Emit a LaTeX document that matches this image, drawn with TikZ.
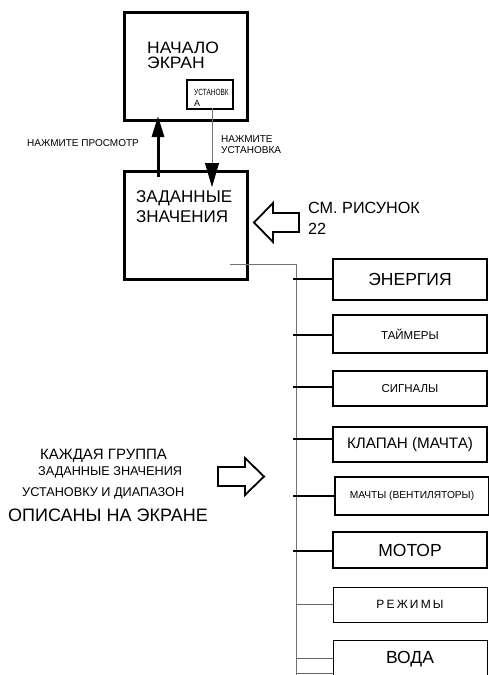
\documentclass[tikz,border=0pt]{standalone}
\usepackage{fontspec}
\setmainfont{Liberation Sans}
\usepackage{graphicx}
\usetikzlibrary{arrows.meta}
\newcommand{\fs}[1]{\fontsize{#1}{#1}\selectfont}
\tikzset{
  bigbox/.style={draw, line width=2.5pt, inner sep=0pt, minimum width=123pt, minimum height=108pt},
  rbox/.style={draw, inner sep=0pt, minimum width=154pt},
  thinb/.style={line width=0.9pt},
  lbl/.style={anchor=base west, inner sep=0pt},
  bus/.style={line width=0.8pt, draw=black!55},
  conthick/.style={line width=2pt},
  conthin/.style={line width=0.8pt, draw=black!60},
  hollow/.style={draw, line width=1.8pt, fill=white, line join=miter}
}
\begin{document}
\begin{tikzpicture}[x=1pt,y=-1pt]
\useasboundingbox (0,0) rectangle (489,675);
\clip (0,0) rectangle (489,675);

% top screen
\node[bigbox, anchor=north west] (start) at (123,11) {};
\node[lbl, font=\fs{16.5}] (t1) at (147,53) {\scalebox{1.06}[1]{НАЧАЛО}};
\node[lbl, font=\fs{16.5}] (t2) at (147,68) {\scalebox{1.06}[1]{ЭКРАН}};
\node[draw, line width=2pt, inner sep=0pt, minimum width=46pt, minimum height=29pt, anchor=north west] (setbtn) at (186,79) {};
\node[lbl, font=\fs{9}] (sb1) at (194,95) {\scalebox{0.72}[1]{УСТАНОВК}};
\node[lbl, font=\fs{9}] (sb2) at (194,106) {А};

% setpoints box
\node[bigbox, anchor=north west] (setp) at (123,170) {};
\node[lbl, font=\fs{17}] (s1) at (136,202) {ЗАДАННЫЕ};
\node[lbl, font=\fs{17}] (s2) at (136,222) {ЗНАЧЕНИЯ};

% arrows between
\coordinate (upfrom) at (158,177);
\coordinate (upto) at (158,116);
\draw[line width=3pt, -{Triangle[length=21pt,width=12pt]}] (upfrom) -- (upto);
\coordinate (dnfrom) at (212,108);
\coordinate (dnto) at (212,187);
\draw[line width=0.8pt, draw=black!55, -{Triangle[length=24pt,width=14pt,color=black]}] (dnfrom) -- (dnto);
\node[lbl, font=\fs{10}] (pv) at (27,146) {НАЖМИТЕ ПРОСМОТР};
\node[lbl, font=\fs{10}] (ps1) at (221,142) {НАЖМИТЕ};
\node[lbl, font=\fs{10}] (ps2) at (221,153) {УСТАНОВКА};

% see figure 22
\draw[hollow] (254,222.5) -- (273,203) -- (273,213) -- (299,213) -- (299,232) -- (273,232) -- (273,242) -- cycle;
\node[lbl, font=\fs{16.2}] (see1) at (308,213) {СМ. РИСУНОК};
\node[lbl, font=\fs{16.2}] (see2) at (308,234) {22};

% bus
\coordinate (busstart) at (230,264);
\coordinate (buscorner) at (296,264);
\coordinate (busend) at (296,676);
\draw[bus] (busstart) -- (buscorner) -- (busend);

% right boxes
\node[rbox, line width=2.7pt, minimum height=41pt, font=\fs{17.5}] (b1) at (410,279.5) {ЭНЕРГИЯ};
\node[rbox, line width=2pt, minimum height=38pt, font=\fs{11.5}] (b2) at (410,334) {ТАЙМЕРЫ};
\node[rbox, line width=2pt, minimum height=35pt, font=\fs{11.5}] (b3) at (410,388.5) {СИГНАЛЫ};
\node[rbox, line width=2pt, minimum height=35pt, font=\fs{15.2}] (b4) at (410,444.5) {КЛАПАН (МАЧТА)};
\node[rbox, line width=2pt, minimum height=38pt, font=\fs{10.2}] (b5) at (412,496) {МАЧТЫ (ВЕНТИЛЯТОРЫ)};
\node[rbox, line width=2.5pt, minimum height=36pt, font=\fs{17.5}] (b6) at (410,550) {МОТОР};
\node[rbox, thinb, minimum height=35pt, font=\fs{12}] (b7) at (410,604.5) {\addfontfeature{LetterSpace=18}РЕЖИМЫ};
\node[rbox, thinb, minimum height=38pt, font=\fs{17.5}] (b8) at (410,659) {ВОДА};

% connectors
\coordinate (c1) at (293,279);
\coordinate (c2) at (293,335);
\coordinate (c3) at (293,387);
\coordinate (c4) at (293,439);
\coordinate (c5) at (293,496);
\coordinate (c6) at (293,551);
\coordinate (c7) at (296,604);
\coordinate (c8) at (296,658);
\coordinate (c9) at (296,673);
\draw[conthick] (c1) -- (c1 -| b1.west);
\draw[conthick] (c2) -- (c2 -| b2.west);
\draw[conthick] (c3) -- (c3 -| b3.west);
\draw[conthick] (c4) -- (c4 -| b4.west);
\draw[conthick] (c5) -- (c5 -| b5.west);
\draw[conthick] (c6) -- (c6 -| b6.west);
\draw[conthin] (c7) -- (c7 -| b7.west);
\draw[conthin] (c8) -- (c8 -| b8.west);
\draw[conthin] (c9) -- (c9 -| b8.west);

% left note
\node[lbl, font=\fs{15}] (n1) at (40,459) {КАЖДАЯ ГРУППА};
\node[lbl, font=\fs{12.7}] (n2) at (38,475) {ЗАДАННЫЕ ЗНАЧЕНИЯ};
\node[lbl, font=\fs{12.7}] (n3) at (22,496) {УСТАНОВКУ И ДИАПАЗОН};
\node[lbl, font=\fs{18}] (n4) at (8,521) {ОПИСАНЫ НА ЭКРАНЕ};
\draw[hollow] (264,476.5) -- (245,458) -- (245,467) -- (218,467) -- (218,486) -- (245,486) -- (245,495) -- cycle;
\end{tikzpicture}
\end{document}
